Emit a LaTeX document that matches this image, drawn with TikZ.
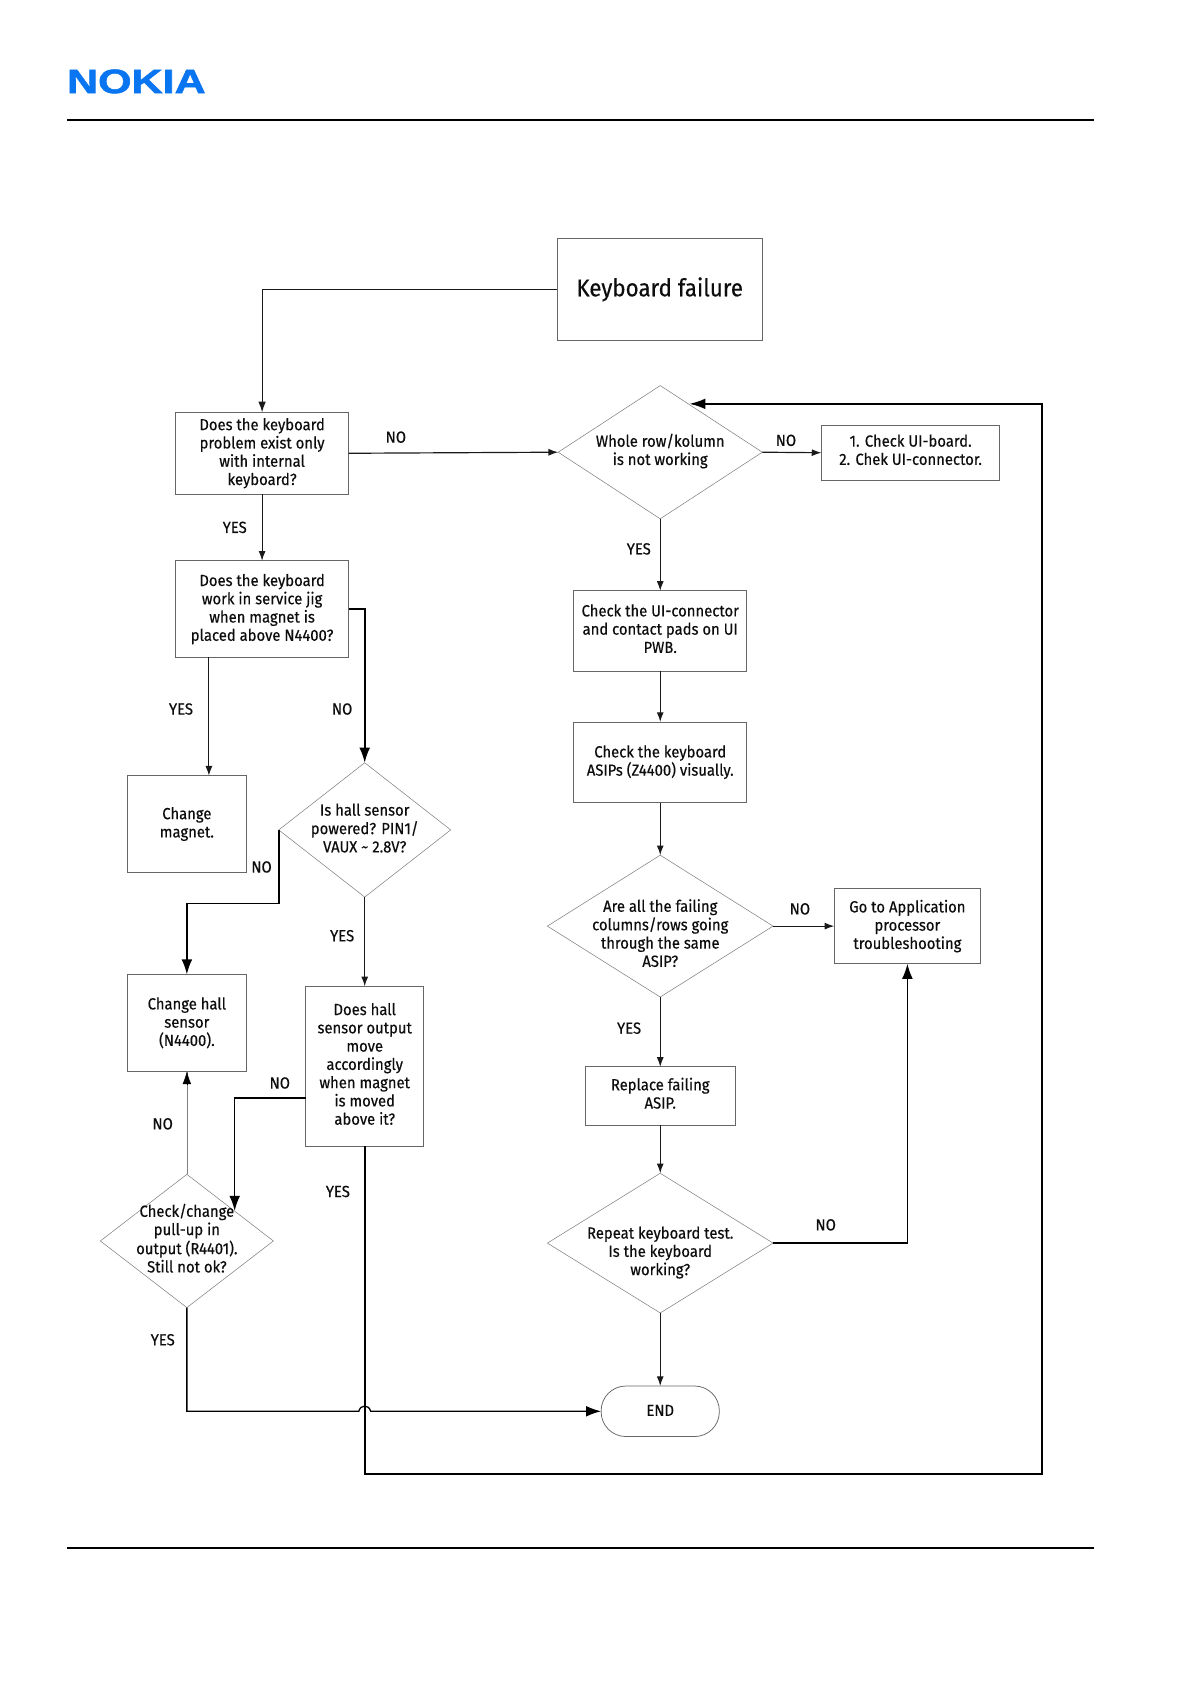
\documentclass[tikz,border=0pt]{standalone}
\usepackage{fontspec}
\usepackage{graphicx}
\setmainfont{Fira Sans}[FakeStretch=0.92,RawFeature={embolden=0.4}]
\newfontfamily\logofont{Liberation Sans Bold}[RawFeature={embolden=1.5}]
\usetikzlibrary{shapes.geometric,arrows.meta,calc}
\newcommand{\dtext}[2]{\smash{\raisebox{-#1pt}{\makebox[0pt]{\begin{tabular}{@{}c@{}}#2\end{tabular}}}}}
\tikzset{
  x=1pt,y=-1pt,
  basefont/.style={font=\fontsize{15}{17}\selectfont,text=black!95},
  boxnode/.style={draw=black!60,line width=0.7pt,rectangle,inner sep=0pt,outer sep=0pt,align=center,basefont},
  dianode/.style={draw=black!50,line width=0.5pt,diamond,inner sep=0pt,outer sep=0pt,aspect=1.5,basefont},
  lbl/.style={basefont,inner sep=0pt},
  conn/.style={line width=1.1pt,draw=black!90,-{Latex[length=9pt,width=6.5pt]}},
  connbig/.style={line width=1.5pt,draw=black,-{Latex[length=14pt,width=10pt]}},
  connthick/.style={line width=1.9pt,draw=black,-{Latex[length=15pt,width=10pt]}},
  connthin/.style={line width=0.5pt,draw=black!50},
  rulebar/.style={line width=1.9pt,draw=black}
}
\begin{document}
\begin{tikzpicture}
\useasboundingbox (0.6,0.2) rectangle (1109,1567.3);
% header / footer
\coordinate (hl) at (63,112); \coordinate (hr) at (1019,112);
\coordinate (fl) at (63,1441); \coordinate (fr) at (1019,1441);
\draw[rulebar] (hl) -- (hr);
\draw[rulebar] (fl) -- (fr);
\node[inner sep=0pt] (logo) at (127.5,76) {\resizebox{129pt}{22pt}{\logofont\color[HTML]{0A75F0}NOKIA}};
% boxes
\node[boxnode,minimum width=191pt,minimum height=95pt,font=\fontsize{22.6}{26}\selectfont] (kb) at (614.5,269.5) {Keyboard failure};
\node[boxnode,minimum width=161pt,minimum height=76pt] (q1) at (244.5,422) {Does the keyboard\\problem exist only\\with internal\\keyboard?};
\node[boxnode,minimum width=161pt,minimum height=90pt] (q2) at (244.5,567) {Does the keyboard\\work in service jig\\when magnet is\\placed above N4400?};
\node[boxnode,minimum width=166pt,minimum height=51pt] (ui) at (848,421.5) {\dtext{3}{1. Check UI-board.\\2. Chek UI-connector.}};
\node[boxnode,minimum width=161pt,minimum height=75pt] (cui) at (615,587.5) {\dtext{3.5}{Check the UI-connector\\and contact pads on UI\\PWB.}};
\node[boxnode,minimum width=161pt,minimum height=75pt] (asip) at (615,709.5) {Check the keyboard\\ASIPs (Z4400) visually.};
\node[boxnode,minimum width=111pt,minimum height=90pt] (magnet) at (174.5,767) {Change\\magnet.};
\node[boxnode,minimum width=136pt,minimum height=70pt] (app) at (845,862) {Go to Application\\processor\\troubleshooting};
\node[boxnode,minimum width=111pt,minimum height=90pt] (hall) at (174.5,952) {Change hall\\sensor\\(N4400).};
\node[boxnode,minimum width=110pt,minimum height=149pt] (out) at (340,992.5) {\dtext{3.5}{Does hall\\sensor output\\move\\accordingly\\when magnet\\is moved\\above it?}};
\node[boxnode,minimum width=140pt,minimum height=54pt] (rep) at (615,1020) {\dtext{3.5}{Replace failing\\ASIP.}};
\node[boxnode,rounded corners=23pt,minimum width=110pt,minimum height=47pt] (endn) at (615,1313.5) {\dtext{4.5}{END}};
% diamonds
\node[dianode,minimum width=190pt,minimum height=124pt] (row) at (615,421) {\dtext{3.5}{Whole row/kolumn\\is not working}};
\node[dianode,minimum width=160pt,minimum height=125pt] (sensor) at (340,772.5) {\dtext{4}{Is hall sensor\\powered? PIN1/\\VAUX \char`\~{} 2.8V?}};
\node[dianode,minimum width=210pt,minimum height=132pt] (same) at (615,862) {\dtext{12.5}{Are all the failing\\columns/rows going\\through the same\\ASIP?}};
\node[dianode,minimum width=210pt,minimum height=130pt] (test) at (615,1157) {\dtext{13}{Repeat keyboard test.\\Is the keyboard\\working?}};
\node[dianode,minimum width=161pt,minimum height=124pt] (pull) at (174.5,1155) {\dtext{3.5}{Check/change\\pull-up in\\output (R4401).\\Still not ok?}};
% helper coordinates
\coordinate (a1) at (244.5,269.5);
\coordinate (a2) at (195,722);
\coordinate (a3) at (340,567);
\coordinate (a4) at (260,841);
\coordinate (a5) at (174.5,841);
\coordinate (a6) at (219,1022);
\coordinate (a7) at (219,1127);
\coordinate (a8) at (174.5,1313.5);
\coordinate (h1) at (334.5,1313.5);
\coordinate (h2) at (345.5,1313.5);
\coordinate (c1) at (336,1307);
\coordinate (c2) at (344,1307);
\coordinate (a9) at (340,1372);
\coordinate (a10) at (970,1372);
\coordinate (a11) at (970,376);
\coordinate (a12) at (642,376);
\coordinate (a13) at (845,1157);
\coordinate (a14) at (174.5,1010);
% connectors
\draw[line width=1.1pt,draw=black!90,-{Latex[length=10pt,width=7pt]}] (kb.west |- a1) -- (a1) -- (q1.north);
\draw[conn] (q1.east) -- (row.west);
\draw[conn] (row.east) -- (ui.west);
\draw[conn] (q1.south) -- (q2.north);
\draw[conn] (a2 |- q2.south) -- (a2);
\draw[connbig] (q2.east |- a3) -- (a3) -- (sensor.north);
\draw[connbig] (sensor.west) -- (a4) -- (a5) -- (hall.north);
\draw[conn] (sensor.south) -- (out.north);
\draw[connbig] (out.west |- a6) -- (a6) -- (a7);
\draw[connthin] (pull.north) -- (hall.south);
\draw[connthin,-{Latex[length=12pt,width=8pt]},draw=black] (a14) -- (hall.south);
\draw[connbig,line width=1.2pt] (pull.south) -- (a8) -- (h1) .. controls (c1) and (c2) .. (h2) -- (endn.west);
\draw[connthick] (out.south) -- (a9) -- (a10) -- (a11) -- (a12);
\draw[conn] (row.south) -- (cui.north);
\draw[conn] (cui.south) -- (asip.north);
\draw[conn] (asip.south) -- (same.north);
\draw[conn] (same.east) -- (app.west);
\draw[conn] (same.south) -- (rep.north);
\draw[conn] (rep.south) -- (test.north);
\draw[conn] (test.south) -- (endn.north);
\draw[connbig] (test.east) -- (a13) -- (app.south);
% labels
\node[lbl] (l1) at (369,407) {NO};
\node[lbl] (l2) at (219,491) {YES};
\node[lbl] (l3) at (732,410) {NO};
\node[lbl] (l4) at (595,511) {YES};
\node[lbl] (l5) at (169,660) {YES};
\node[lbl] (l6) at (319,660) {NO};
\node[lbl] (l7) at (244,807) {NO};
\node[lbl] (l8) at (319,871) {YES};
\node[lbl] (l9) at (745,846) {NO};
\node[lbl] (l10) at (586,957) {YES};
\node[lbl] (l11) at (261,1008) {NO};
\node[lbl] (l12) at (152,1046) {NO};
\node[lbl] (l13) at (315,1109) {YES};
\node[lbl] (l14) at (152,1247) {YES};
\node[lbl] (l15) at (769,1140) {NO};
\end{tikzpicture}
\end{document}
